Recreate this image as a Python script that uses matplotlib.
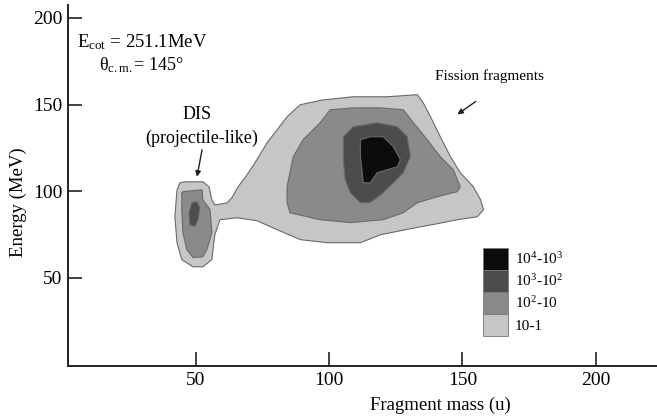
import matplotlib
matplotlib.use("Agg")
import matplotlib.pyplot as plt
from matplotlib.patches import Patch

plt.rcParams["font.family"] = ["Liberation Serif", "DejaVu Serif"]
plt.rcParams["mathtext.fontset"] = "custom"
plt.rcParams["mathtext.rm"] = "Liberation Serif"
plt.rcParams["mathtext.it"] = "Liberation Serif:italic"

# Yield contours in the (fragment mass, energy) plane, as (mass, energy) vertices
outer_mass = [42.9, 44.0, 45.9, 52.6, 54.9, 56.0, 57.1, 61.7, 63.5, 65.8, 69.2, 72.9,
              76.7, 80.5, 84.2, 89.1, 97.7, 109.0, 121.8, 133.1, 135.3, 138.0, 141.7,
              145.5, 149.2, 154.1, 156.8, 157.9, 155.6, 148.1, 140.6, 130.5, 119.2,
              111.7, 99.2, 89.1, 80.5, 72.9, 65.4, 59.0, 57.1, 56.4, 56.0, 52.6, 48.9,
              44.7, 42.9, 42.1]
outer_energy = [100.7, 104.8, 105.4, 105.4, 102.5, 94.9, 92.0, 93.2, 96.2, 102.5, 109.5,
                118.2, 128.0, 135.5, 143.0, 149.9, 152.7, 154.5, 154.5, 155.7, 151.0,
                143.0, 131.4, 119.9, 110.6, 102.5, 95.0, 89.3, 85.2, 83.5, 81.2, 78.3,
                74.8, 70.2, 70.2, 72.0, 77.7, 82.9, 84.6, 83.5, 74.8, 66.2, 60.4, 56.3,
                56.3, 60.4, 70.2, 85.2]

fission_mid_mass = [84.2, 84.2, 86.5, 90.2, 96.6, 100.4, 109.0, 119.2, 127.8, 131.6,
                    136.8, 141.7, 146.6, 149.2, 148.1, 140.6, 133.1, 127.8, 120.3, 107.9,
                    96.6, 85.3]
fission_mid_energy = [93.2, 102.5, 119.8, 129.7, 139.5, 147.0, 148.1, 148.1, 147.0, 139.5,
                      129.7, 119.9, 112.3, 102.5, 99.7, 96.8, 93.3, 87.5, 83.5, 81.8,
                      83.5, 87.5]

fission_high_mass = [105.3, 109.0, 118.0, 125.6, 129.3, 130.5, 127.8, 124.1, 120.3, 115.4,
                     111.7, 107.9, 106.0, 105.3]
fission_high_energy = [131.3, 137.2, 139.5, 137.2, 131.4, 119.9, 110.6, 104.8, 99.1, 93.3,
                       93.3, 99.1, 106.6, 118.2]

fission_peak_mass = [111.7, 115.4, 120.3, 124.1, 126.7, 125.6, 121.8, 118.0, 115.4, 112.8,
                     112.4, 111.7]
fission_peak_energy = [129.7, 131.4, 131.4, 125.6, 118.2, 114.1, 112.4, 110.6, 104.8,
                       104.8, 110.6, 119.8]

dis_mid_mass = [44.7, 45.1, 52.3, 52.6, 55.3, 56.0, 54.1, 52.6, 48.9, 46.6, 45.1, 44.7]
dis_mid_energy = [99.1, 99.7, 100.8, 95.0, 89.3, 76.0, 66.2, 62.1, 61.6, 66.2, 76.0, 89.3]

dis_high_mass = [48.5, 50.4, 51.5, 50.8, 49.6, 47.7, 47.4]
dis_high_energy = [93.3, 93.9, 90.4, 83.5, 79.5, 80.6, 87.5]

level_labels = ["10$^4$-10$^3$", "10$^3$-10$^2$", "10$^2$-10", "10-1"]
level_colors = ["#0c0c0c", "#4c4c4c", "#8a8a8a", "#c6c6c6"]

x_ticks = [50, 100, 150, 200]
y_ticks = [50, 100, 150, 200]

fig = plt.figure(figsize=(6.57, 4.17), dpi=100)
ax = fig.add_axes([0.1035, 0.1223, 0.8965, 0.8657])

edge = "#6a6a6a"
ax.fill(outer_mass, outer_energy, facecolor=level_colors[3], edgecolor=edge, lw=0.8)
ax.fill(fission_mid_mass, fission_mid_energy, facecolor=level_colors[2], edgecolor=edge, lw=0.8)
ax.fill(dis_mid_mass, dis_mid_energy, facecolor=level_colors[2], edgecolor=edge, lw=0.8)
ax.fill(fission_high_mass, fission_high_energy, facecolor=level_colors[1], edgecolor=edge, lw=0.8)
ax.fill(dis_high_mass, dis_high_energy, facecolor=level_colors[1], edgecolor=edge, lw=0.8)
ax.fill(fission_peak_mass, fission_peak_energy, facecolor=level_colors[0], edgecolor=edge, lw=0.8)

ax.set_xlim(2, 223)
ax.set_ylim(-1, 207.5)
ax.set_xticks(x_ticks)
ax.set_yticks(y_ticks)
for s in ("top", "right"):
    ax.spines[s].set_visible(False)
for s in ("left", "bottom"):
    ax.spines[s].set_linewidth(1.4)
    ax.spines[s].set_color("#222222")
ax.tick_params(direction="in", length=10, width=1.2, color="#222222",
               labelsize=14, pad=4)

ax.set_xlabel("Fragment mass (u)", fontsize=13.5)
ax.set_ylabel("Energy (MeV)", fontsize=13.5)
ax.xaxis.set_label_coords(0.632, -0.086)
ax.yaxis.set_label_coords(-0.070, 0.454)

ax.text(5.5, 186, r"E$_{\mathrm{cot}}$ = 251.1MeV", fontsize=13.5, va="center", ha="left")
ax.text(13.5, 172.5, r"θ$_{\mathrm{c.m.}}$= 145°", fontsize=13, va="center", ha="left")

ax.text(50.4, 144.4, "DIS", ha="center", va="center", fontsize=13)
ax.text(52.3, 130.5, "(projectile-like)", ha="center", va="center", fontsize=13)
ax.annotate("", xy=(50.4, 108.3), xytext=(52.3, 123.9),
            arrowprops=dict(arrowstyle="-|>", color="#222222", lw=1.0,
                            mutation_scale=8, shrinkA=0, shrinkB=0))
ax.text(160.2, 166.6, "Fission fragments", ha="center", va="center", fontsize=11)
ax.annotate("", xy=(148.1, 144.3), xytext=(155.0, 151.8),
            arrowprops=dict(arrowstyle="-|>", color="#222222", lw=1.0,
                            mutation_scale=8, shrinkA=0, shrinkB=0))

handles = [Patch(facecolor=c, edgecolor="#777777", lw=0.6) for c in level_colors]
ax.legend(handles, level_labels, loc="upper left", bbox_to_anchor=(0.705, 0.327),
          frameon=False, borderpad=0, borderaxespad=0, labelspacing=0,
          handlelength=1.65, handleheight=1.85, handletextpad=0.4, fontsize=11)

fig.savefig("out.png", dpi=100)
